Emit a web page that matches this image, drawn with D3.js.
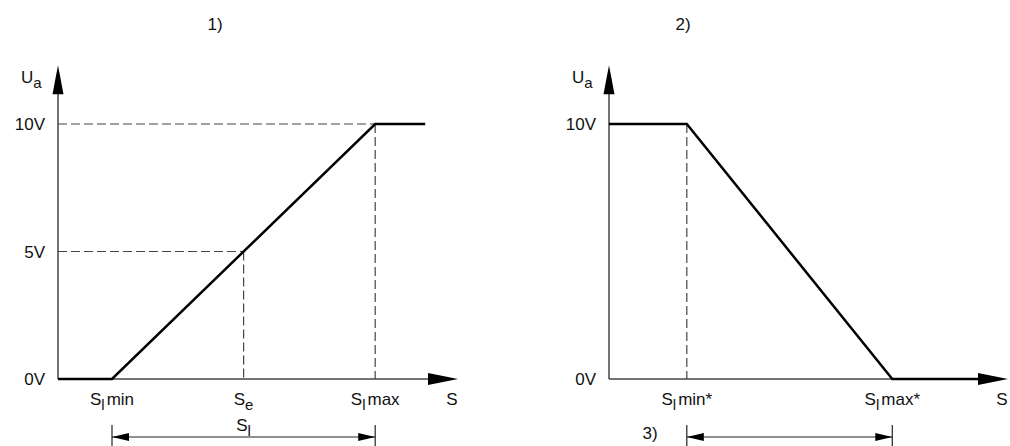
<!DOCTYPE html>
<html>
<head>
<meta charset="utf-8">
<script src="https://cdn.jsdelivr.net/npm/d3@7"></script>
<style>
  html, body { margin: 0; padding: 0; background: #fff; }
  svg text { font-family: "Liberation Sans", Arial, sans-serif; fill: #111; }
</style>
</head>
<body>
<svg id="chart" width="1010" height="446"></svg>
<script>
// Kennlinien-Daten (Weg S in relativen Einheiten 0..100, Spannung U in Volt)
const yTickValues = [0, 5, 10];
const yTickLabels = ["0V", "5V", "10V"];

// Diagramm 1): steigende Kennlinie
const leftCurveS = [0, 13.5, 79.3, 91.8];
const leftCurveU = [0, 0, 10, 10];
const leftMarkS = [13.5, 46.4, 79.3];
const leftMarkNames = [["S", "l", "min"], ["S", "e", ""], ["S", "l", "max"]];

// Diagramm 2): fallende Kennlinie
const rightCurveS = [0, 19.5, 71, 92.5];
const rightCurveU = [10, 10, 0, 0];
const rightMarkS = [19.5, 71];
const rightMarkNames = [["S", "l", "min*"], ["S", "l", "max*"]];

const svg = d3.select("#chart");

// gemeinsame y-Skala
const y = d3.scaleLinear().domain([0, 10]).range([379, 124]);
const yAxisTop = 12.3;   // Pfeilspitze der U-Achse
const xAxisEnd = 100;    // Pfeilspitze der S-Achse

// Text mit tiefgestelltem Index
function subText(g, x, yPos, parts, anchor) {
  const t = g.append("text")
    .attr("x", x).attr("y", yPos)
    .attr("text-anchor", anchor || "middle")
    .attr("font-size", 17);
  t.append("tspan").text(parts[0]);
  t.append("tspan").attr("font-size", 15).attr("dy", 5).text(parts[1]);
  if (parts[2]) t.append("tspan").attr("dy", -5).attr("dx", 2).text(parts[2]);
  return t;
}

function drawPanel(opts) {
  const g = svg.append("g");
  const x = d3.scaleLinear().domain([0, 100]).range(opts.range);
  const x0 = x(0), y0 = y(0);

  // Achsen
  g.append("line")
    .attr("x1", x0).attr("y1", y0).attr("x2", x(xAxisEnd) - 28).attr("y2", y0)
    .attr("stroke", "#444").attr("stroke-width", 1.5);
  g.append("line")
    .attr("x1", x0).attr("y1", y0).attr("x2", x0).attr("y2", y(yAxisTop) + 28)
    .attr("stroke", "#444").attr("stroke-width", 1.5);

  // Pfeilspitzen
  const tipX = x(xAxisEnd);
  g.append("path")
    .attr("d", `M${tipX},${y0} L${tipX - 30},${y0 - 6} L${tipX - 30},${y0 + 6} Z`)
    .attr("fill", "#000");
  const tipY = y(yAxisTop);
  g.append("path")
    .attr("d", `M${x0},${tipY} L${x0 - 5.5},${tipY + 29} L${x0 + 5.5},${tipY + 29} Z`)
    .attr("fill", "#000");

  // Hilfslinien (gestrichelt)
  opts.dashes.forEach(d => {
    g.append("line")
      .attr("x1", x(d[0])).attr("y1", y(d[1]))
      .attr("x2", x(d[2])).attr("y2", y(d[3]))
      .attr("stroke", "#444").attr("stroke-width", 1.2)
      .attr("stroke-dasharray", "9,4");
  });

  // Kennlinie
  const line = d3.line().x(d => x(d[0])).y(d => y(d[1]));
  g.append("path")
    .datum(opts.curveS.map((s, i) => [s, opts.curveU[i]]))
    .attr("d", line)
    .attr("fill", "none")
    .attr("stroke", "#000")
    .attr("stroke-width", 2.5);

  // y-Beschriftung
  opts.yTicks.forEach(v => {
    g.append("text")
      .attr("x", x0 - 13).attr("y", y(v) + 6)
      .attr("text-anchor", "end")
      .attr("font-size", 17)
      .text(yTickLabels[yTickValues.indexOf(v)]);
  });
  subText(g, x0 - 37, y(yAxisTop) + 18, ["U", "a", ""], "start");

  // x-Beschriftung
  opts.markS.forEach((s, i) => subText(g, x(s), 405, opts.markNames[i]));
  g.append("text")
    .attr("x", tipX - 6).attr("y", 405)
    .attr("text-anchor", "middle")
    .attr("font-size", 17)
    .text("S");

  // Maßlinie
  const a = x(opts.span[0]), b = x(opts.span[1]), dy = 437;
  [a, b].forEach(px => g.append("line")
    .attr("x1", px).attr("y1", 425).attr("x2", px).attr("y2", 446)
    .attr("stroke", "#222").attr("stroke-width", 1.2));
  g.append("line")
    .attr("x1", a).attr("y1", dy).attr("x2", b).attr("y2", dy)
    .attr("stroke", "#222").attr("stroke-width", 1.2);
  g.append("path")
    .attr("d", `M${a},${dy} L${a + 17},${dy - 4} L${a + 17},${dy + 4} Z M${b},${dy} L${b - 17},${dy - 4} L${b - 17},${dy + 4} Z`)
    .attr("fill", "#000");

  // Titel
  g.append("text")
    .attr("x", opts.titleX).attr("y", 30)
    .attr("text-anchor", "middle")
    .attr("font-size", 17)
    .text(opts.title);

  return { g, x };
}

const left = drawPanel({
  range: [58, 458],
  curveS: leftCurveS, curveU: leftCurveU,
  markS: leftMarkS, markNames: leftMarkNames,
  yTicks: [0, 5, 10],
  dashes: [
    [0, 10, leftMarkS[2], 10],
    [0, 5, leftMarkS[1], 5],
    [leftMarkS[1], 5, leftMarkS[1], 0],
    [leftMarkS[2], 10, leftMarkS[2], 0]
  ],
  span: [leftMarkS[0], leftMarkS[2]],
  title: "1)", titleX: 215
});
subText(left.g, left.x(leftMarkS[1]), 431, ["S", "l", ""]);

const right = drawPanel({
  range: [609, 1008],
  curveS: rightCurveS, curveU: rightCurveU,
  markS: rightMarkS, markNames: rightMarkNames,
  yTicks: [0, 10],
  dashes: [
    [rightMarkS[0], 10, rightMarkS[0], 0]
  ],
  span: [rightMarkS[0], rightMarkS[1]],
  title: "2)", titleX: 683
});
right.g.append("text")
  .attr("x", 650).attr("y", 439)
  .attr("text-anchor", "middle")
  .attr("font-size", 17)
  .text("3)");
</script>
</body>
</html>
